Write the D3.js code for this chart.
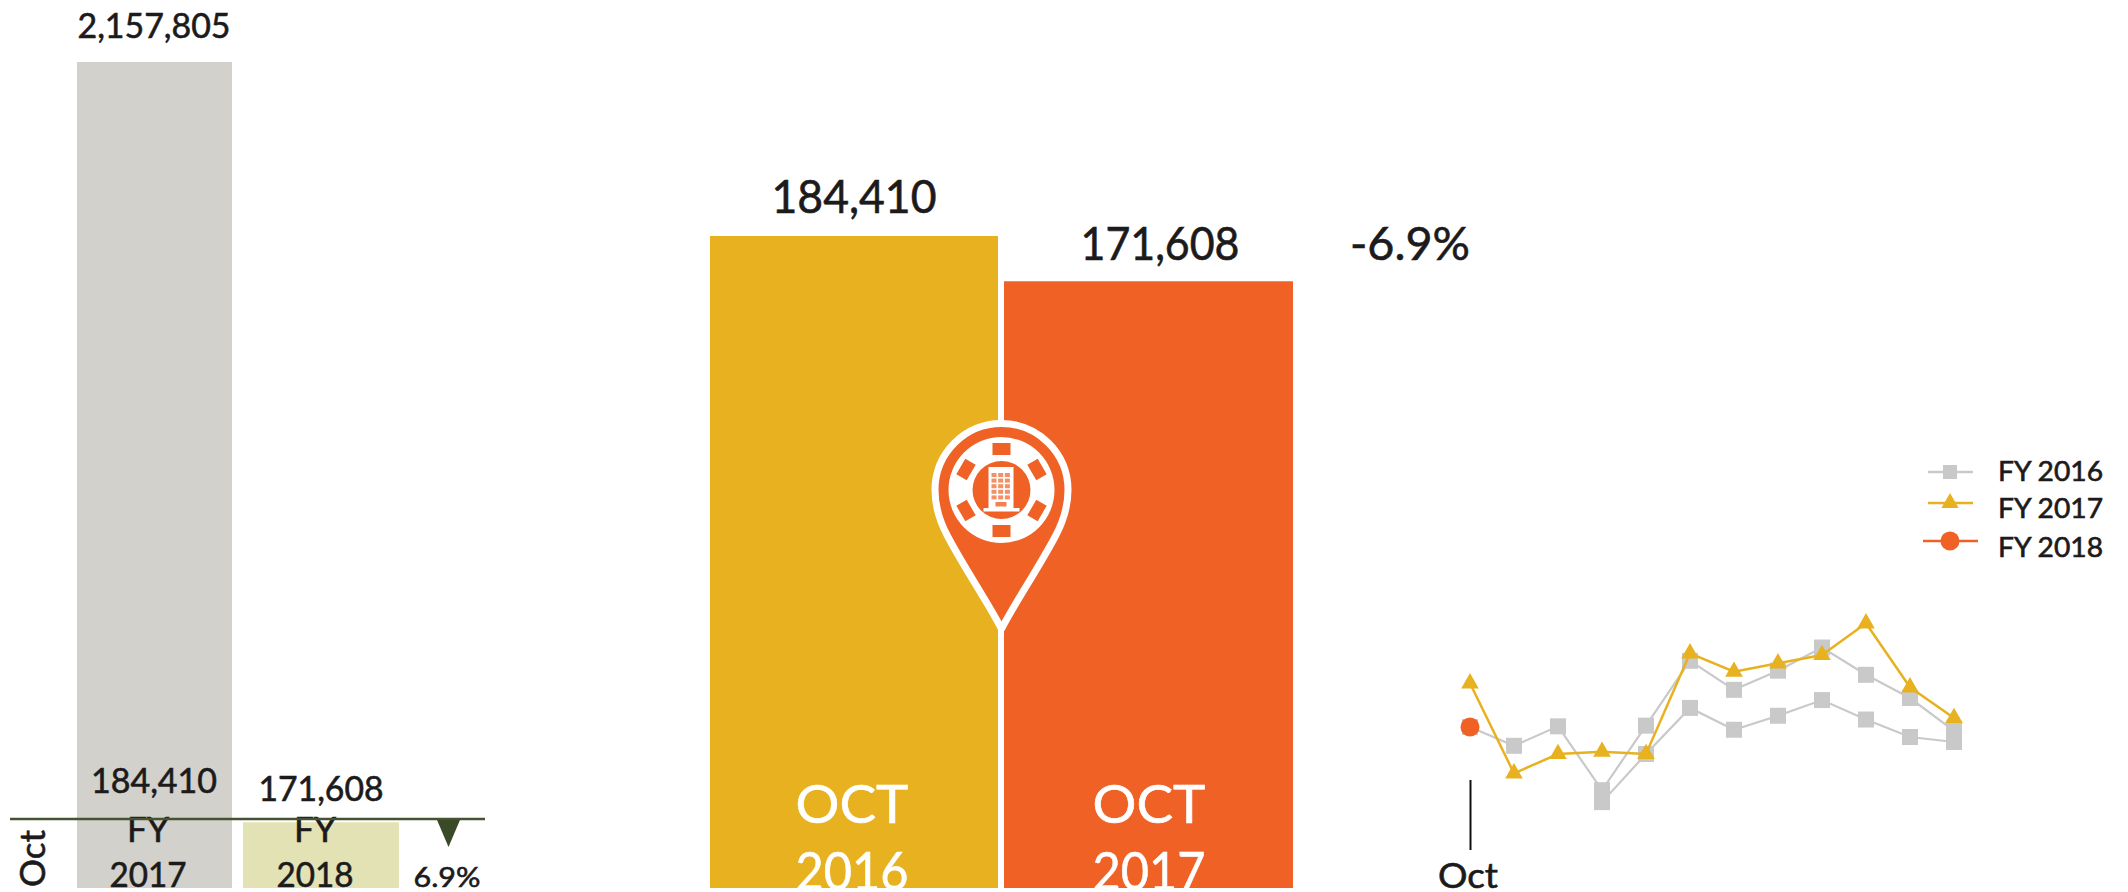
<!DOCTYPE html>
<html><head><meta charset="utf-8">
<style>html,body{margin:0;padding:0;background:#fff}svg{display:block}text{font-family:Lato,"Open Sans",sans-serif;fill:#1c1a1b;stroke:#1c1a1b;stroke-width:.6px}</style>
<script src="https://cdn.jsdelivr.net/npm/d3@7"></script></head>
<body><svg id="c" width="2128" height="892"></svg>
<script>
const leftLabels = ["FY\n2017", "FY\n2018"];
const leftValues = [184410, 171608];
const leftTotal = 2157805;
const midLabels = ["OCT\n2016", "OCT\n2017"];
const midValues = [184410, 171608];
const changePct = -6.9;
const months = ["Oct","Nov","Dec","Jan","Feb","Mar","Apr","May","Jun","Jul","Aug","Sep"];
const fy2016 = [171608,166100,171800,153100,172000,191000,182500,188100,194900,186900,180100,170440];
const fy2016b = [null,null,null,149600,163700,177200,170800,174900,179500,173800,168680,167210];
const fy2017 = [184410,158040,163700,164370,163700,193200,187810,190270,192700,201990,183240,174250];
const fy2018 = [171608];
const legendNames = ["FY 2016","FY 2017","FY 2018"];

const svg = d3.select("#c");
const fmt = d3.format(",");
const GREY="#c9c9c9", YEL="#e8b120", ORG="#ef6125";
const fit=(s,w)=>s.attr("textLength",w).attr("lengthAdjust","spacingAndGlyphs");

// ---------- left panel
const ly = d3.scaleLinear().domain([0,leftTotal]).range([888,62]);
const lg = svg.append("g");
const lBars=[{x:77,w:155,v:leftTotal,c:"#d2d1cb"},{x:243,w:156,v:leftValues[1],c:"#e3e2b5"}];
lg.selectAll("rect").data(lBars).join("rect")
  .attr("x",d=>d.x).attr("width",d=>d.w).attr("y",d=>ly(d.v)).attr("height",d=>ly(0)-ly(d.v)).attr("fill",d=>d.c);
fit(lg.append("text").attr("x",154).attr("y",38).attr("text-anchor","middle").attr("font-size",34).text(fmt(leftTotal)),153);
fit(lg.append("text").attr("x",154).attr("y",793).attr("text-anchor","middle").attr("font-size",34).text(fmt(leftValues[0])),126);
fit(lg.append("text").attr("x",321).attr("y",801).attr("text-anchor","middle").attr("font-size",34).text(fmt(leftValues[1])),125);
[148,315].forEach((x,i)=>{
  const p=leftLabels[i].split("\n");
  fit(lg.append("text").attr("x",x).attr("y",842).attr("text-anchor","middle").attr("font-size",34).text(p[0]),42);
  fit(lg.append("text").attr("x",x).attr("y",887).attr("text-anchor","middle").attr("font-size",34).text(p[1]),77);
});
lg.append("line").attr("x1",10).attr("x2",485).attr("y1",819).attr("y2",819).attr("stroke","#445331").attr("stroke-width",2.5);
lg.append("path").attr("d","M437,820L460,820L448.5,847Z").attr("fill","#3b4a26");
fit(lg.append("text").attr("x",447).attr("y",887).attr("text-anchor","middle").attr("font-size",27).text(Math.abs(changePct)+"%"),67);
fit(lg.append("text").attr("transform","translate(45,887) rotate(-90)").attr("font-size",34).text("Oct"),57);

// ---------- middle panel
const my = d3.scaleLinear().domain([0,midValues[0]]).range([888,236]);
const mg = svg.append("g");
const mBars=[{x:710,w:288,c:YEL,cx:852,lx:854,lw:165,ly:213},{x:1004,w:289,c:ORG,cx:1149,lx:1160,lw:159,ly:260}];
mBars.forEach((b,i)=>{
  const v=midValues[i], p=midLabels[i].split("\n");
  mg.append("rect").attr("x",b.x).attr("width",b.w).attr("y",my(v)).attr("height",my(0)-my(v)).attr("fill",b.c);
  fit(mg.append("text").attr("x",b.lx).attr("y",b.ly).attr("text-anchor","middle").attr("font-size",46).text(fmt(v)),b.lw);
  fit(mg.append("text").attr("x",b.cx).attr("y",823).attr("text-anchor","middle").attr("font-size",53).style("fill","#fff").style("stroke","#fff").text(p[0]),113);
  fit(mg.append("text").attr("x",b.cx).attr("y",890).attr("text-anchor","middle").attr("font-size",53).style("fill","#fff").style("stroke","#fff").text(p[1]),113);
});
fit(mg.append("text").attr("x",1410).attr("y",260).attr("text-anchor","middle").attr("font-size",46).text("-"+Math.abs(changePct)+"%"),120);

// pin icon
const pin = svg.append("g").attr("transform","translate(1001.5,490)");
pin.append("path").attr("d","M0,139 C-12,115 -36,80 -54,46 C-62,31 -66.5,17 -66.5,0 A66.5,66.5 0 1 1 66.5,0 C66.5,17 62,31 54,46 C36,80 12,115 0,139Z")
  .attr("fill",ORG).attr("stroke","#fff").attr("stroke-width",7).attr("stroke-linejoin","round");
pin.append("circle").attr("r",53).attr("fill","#fff");
pin.append("circle").attr("r",29).attr("fill",ORG);
d3.range(6).forEach(i=>{
  pin.append("rect").attr("x",-9).attr("y",-47).attr("width",18).attr("height",12).attr("fill",ORG)
    .attr("transform",`rotate(${i*60})`);
});
pin.append("rect").attr("x",-13).attr("y",-23).attr("width",25).attr("height",41).attr("fill","#fff");
pin.append("rect").attr("x",-18).attr("y",18).attr("width",36).attr("height",3.5).attr("fill","#fff");
d3.range(3).forEach(c=>d3.range(5).forEach(r=>{
  pin.append("rect").attr("x",-10+c*6.7).attr("y",-17+r*5.6).attr("width",5).attr("height",4).attr("fill",ORG).attr("opacity",.7);
}));
pin.append("rect").attr("x",-6).attr("y",12).attr("width",11).attr("height",4.5).attr("fill",ORG).attr("opacity",.8);

// ---------- line panel
const x = d3.scalePoint().domain(months).range([1470,1954]);
const y = d3.scaleLinear().domain([171608,184410]).range([727,683.3]);
const lineGen = d3.line().defined(d=>d!=null).x((d,i)=>x(months[i])).y(d=>y(d));
const rg = svg.append("g");
const sym = (t,s)=>d3.symbol().type(t).size(s)();
[fy2016b,fy2016].forEach(s=>{
  rg.append("path").attr("d",lineGen(s)).attr("fill","none").attr("stroke",GREY).attr("stroke-width",2.2);
  rg.selectAll(null).data(s.map((v,i)=>({v,i})).filter(d=>d.v!=null)).join("path")
    .attr("d",sym(d3.symbolSquare,256)).attr("fill",GREY)
    .attr("transform",d=>`translate(${x(months[d.i])},${y(d.v)})`);
});
rg.append("path").attr("d",lineGen(fy2017)).attr("fill","none").attr("stroke",YEL).attr("stroke-width",2.5);
rg.selectAll(null).data(fy2017.map((v,i)=>({v,i}))).join("path")
  .attr("d",sym(d3.symbolTriangle,135)).attr("fill",YEL)
  .attr("transform",d=>`translate(${x(months[d.i])},${y(d.v)})`);
rg.selectAll(null).data(fy2018.map((v,i)=>({v,i}))).join("circle")
  .attr("r",9.5).attr("fill",ORG).attr("cx",d=>x(months[d.i])).attr("cy",d=>y(d.v));
rg.append("line").attr("x1",1470.5).attr("x2",1470.5).attr("y1",780).attr("y2",850).attr("stroke","#111").attr("stroke-width",2);
fit(rg.append("text").attr("x",1468).attr("y",888).attr("text-anchor","middle").attr("font-size",34).text(months[0]),60);

// legend
const leg=[{y:472,c:GREY,x1:1928,x2:1973,t:"s",ty:481},{y:503,c:YEL,x1:1928,x2:1973,t:"t",ty:518},{y:541,c:ORG,x1:1923,x2:1978,t:"c",ty:557}];
leg.forEach((l,i)=>{
  svg.append("line").attr("x1",l.x1).attr("x2",l.x2).attr("y1",l.y).attr("y2",l.y).attr("stroke",l.c).attr("stroke-width",2.5);
  if(l.t=="s") svg.append("path").attr("d",sym(d3.symbolSquare,196)).attr("transform",`translate(1950,${l.y})`).attr("fill",l.c);
  if(l.t=="t") svg.append("path").attr("d",sym(d3.symbolTriangle,130)).attr("transform",`translate(1950,${l.y})`).attr("fill",l.c);
  if(l.t=="c") svg.append("circle").attr("cx",1950).attr("cy",l.y).attr("r",9.5).attr("fill",l.c);
  fit(svg.append("text").attr("x",1998).attr("y",l.ty).attr("font-size",26).text(legendNames[i]),105);
});
</script></body></html>
